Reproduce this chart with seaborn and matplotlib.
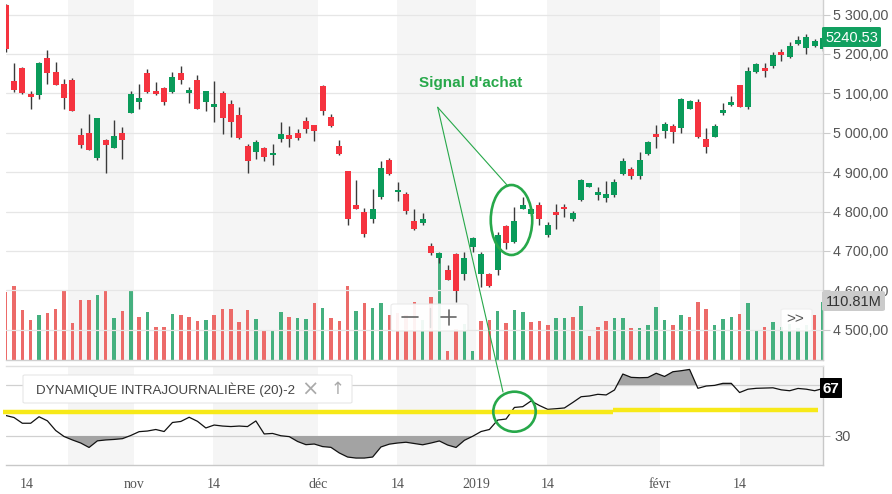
import matplotlib
matplotlib.use("Agg")
import matplotlib.pyplot as plt
import matplotlib.ticker as mticker
from matplotlib.patches import Ellipse, FancyBboxPatch, Rectangle
from matplotlib.lines import Line2D
import numpy as np
import pandas as pd
import seaborn as sns

# ---------------- data (CAC 40 daily, 10 Oct 2018 -> 28 Feb 2019) ----------------
opens = [5324, 5131, 5164, 5098, 5097, 5190, 5154, 5124, 5134, 4994,
         4999, 4936, 4982, 4962, 4999, 5051, 5079, 5151, 5106, 5114,
         5104, 5152, 5102, 5134, 5079, 5066, 5102, 5073, 5045, 4967,
         4950, 4961, 4943, 4985, 4994, 5000, 5030, 5019, 5119, 5040,
         4967, 4903, 4816, 4799, 4782, 4836, 4931, 4849, 4845, 4776,
         4770, 4713, 4683, 4652, 4691, 4642, 4709, 4642, 4642, 4652,
         4762, 4723, 4807, 4793, 4817, 4741, 4800, 4812, 4782, 4828,
         4863, 4841, 4834, 4841, 4895, 4907, 4890, 4945, 4997, 5005,
         5017, 5012, 5061, 5078, 4984, 4990, 5051, 5071, 5121, 5065,
         5153, 5164, 5170, 5206, 5193, 5225, 5214, 5220, 5212]
highs = [5328, 5178, 5166, 5107, 5180, 5210, 5179, 5136, 5138, 5011,
         5047, 5038, 4983, 5032, 5014, 5107, 5124, 5163, 5128, 5115,
         5153, 5169, 5117, 5146, 5107, 5132, 5107, 5082, 5066, 4971,
         4982, 4963, 4972, 5027, 5016, 5010, 5039, 5020, 5120, 5047,
         4982, 4904, 4880, 4810, 4857, 4927, 4937, 4875, 4849, 4807,
         4796, 4719, 4697, 4665, 4694, 4697, 4736, 4697, 4645, 4749,
         4766, 4811, 4838, 4808, 4823, 4774, 4818, 4818, 4802, 4882,
         4873, 4863, 4877, 4882, 4935, 4912, 4952, 4978, 5020, 5026,
         5022, 5087, 5083, 5085, 5011, 5022, 5076, 5093, 5122, 5166,
         5176, 5178, 5206, 5212, 5231, 5246, 5251, 5239, 5245]
lows = [5206, 5104, 5098, 5059, 5085, 5124, 5121, 5059, 5054, 4961,
        4955, 4931, 4897, 4961, 4933, 5049, 5061, 5102, 5096, 5070,
        5102, 5125, 5076, 5060, 5056, 5028, 4997, 4990, 4983, 4897,
        4933, 4928, 4917, 4977, 4963, 4982, 5000, 4978, 5046, 5014,
        4944, 4765, 4806, 4736, 4772, 4831, 4893, 4826, 4794, 4754,
        4765, 4689, 4670, 4625, 4569, 4625, 4696, 4609, 4609, 4639,
        4704, 4721, 4806, 4789, 4765, 4735, 4755, 4787, 4776, 4826,
        4862, 4828, 4823, 4838, 4892, 4882, 4882, 4943, 4961, 4986,
        4973, 5000, 5060, 4987, 4948, 4988, 5044, 5068, 5065, 5061,
        5152, 5141, 5164, 5183, 5191, 5222, 5200, 5217, 5208]
closes = [5213, 5109, 5100, 5090, 5178, 5151, 5122, 5087, 5055, 4970,
          4956, 5037, 4970, 4992, 4982, 5098, 5088, 5104, 5098, 5078,
          5142, 5134, 5109, 5061, 5105, 5073, 5038, 5028, 4986, 4929,
          4977, 4939, 4948, 4997, 4984, 4987, 5010, 5005, 5055, 5016,
          4946, 4782, 4807, 4743, 4806, 4911, 4895, 4855, 4802, 4755,
          4780, 4694, 4695, 4626, 4599, 4682, 4733, 4691, 4611, 4740,
          4721, 4776, 4817, 4806, 4782, 4766, 4790, 4806, 4796, 4879,
          4872, 4850, 4845, 4875, 4929, 4889, 4931, 4976, 4990, 5021,
          5003, 5085, 5081, 4988, 4965, 5017, 5058, 5079, 5066, 5157,
          5175, 5158, 5197, 5198, 5220, 5236, 5244, 5232, 5240.53]
volumes_m = [130, 141, 96, 77, 86, 90, 97, 131, 71, 115,
             115, 124, 132, 81, 94, 131, 82, 92, 64, 64,
             88, 86, 82, 75, 77, 86, 97, 97, 73, 96,
             78, 55, 58, 92, 82, 81, 78, 108, 100, 81,
             75, 142, 94, 108, 100, 108, 86, 90, 86, 110,
             76, 120, 197, 17, 59, 69, 17, 75, 76, 94,
             71, 96, 92, 73, 75, 67, 81, 80, 82, 103,
             46, 63, 75, 81, 81, 62, 62, 67, 101, 76,
             67, 86, 82, 111, 97, 67, 78, 83, 88, 109,
             57, 64, 73, 63, 69, 61, 67, 86, 110.81]
imi = [46.1, 44.5, 40.0, 40.0, 45.1, 41.9, 34.3, 29.6, 26.9, 24.5,
       21.0, 26.2, 26.9, 27.3, 27.9, 30.4, 33.4, 33.9, 35.1, 33.5,
       40.6, 41.4, 44.7, 41.5, 36.3, 38.6, 37.8, 37.4, 37.8, 37.4,
       41.8, 31.6, 32.0, 30.2, 29.5, 25.7, 23.2, 23.7, 21.7, 21.1,
       16.7, 13.5, 12.7, 12.7, 13.5, 21.4, 23.6, 24.5, 25.1, 24.1,
       23.1, 24.5, 26.1, 22.9, 21.0, 26.6, 29.8, 33.5, 35.1, 42.5,
       43.3, 52.4, 53.0, 57.5, 53.9, 50.9, 51.4, 52.0, 56.3, 60.8,
       61.4, 62.7, 62.2, 66.1, 78.6, 76.0, 75.7, 75.9, 79.2, 76.7,
       80.4, 81.2, 82.2, 67.4, 69.2, 69.7, 71.3, 71.3, 64.1, 66.7,
       67.4, 67.6, 67.8, 66.2, 65.5, 67.3, 66.7, 65.5, 67.2]
price_ticks = [4500, 4600, 4700, 4800, 4900, 5000, 5100, 5200, 5300]
date_tick_pos = [2.52, 15.43, 24.90, 37.49, 47.0, 56.4, 64.95, 78.46, 87.97]
date_tick_labels = ["14", "nov", "14", "déc", "14", "2019", "14", "févr", "14"]
shade_spans = [(7.47, 15.43), (24.90, 37.49), (46.9, 56.4), (64.95, 78.46), (88.05, 99.0)]
imi_levels = [30, 70]
signal_levels = [(-0.35, 72.8, 49.1), (72.8, 97.4, 50.4)]
indicator_name = "DYNAMIQUE INTRAJOURNALIÈRE (20)-2"
annotation_text = "Signal d'achat"

# ---------------- styling ----------------
sns.set_theme(style="white")
plt.rcParams["font.family"] = ["Liberation Sans", "DejaVu Sans"]

RED = "#f5333f"
GREEN = "#0a9b5a"
VRED = "#ec6b69"
VGREEN = "#45b07f"
BAND = "#f5f5f5"
GRID = "#e6e6e6"
TXT = "#555555"
SIG = "#27a84a"

W, H = 892, 494
fig = plt.figure(figsize=(W / 100, H / 100), dpi=100)
fig.patch.set_facecolor("white")


def fx(x):
    return x / W


def fy(y):
    return 1 - y / H


XL = (0.04, 98.0)
main_rect = [fx(6), fy(360), fx(823) - fx(6), fy(0) - fy(360)]
low_rect = [fx(6), fy(465), fx(823) - fx(6), fy(366) - fy(465)]

df = pd.DataFrame({"i": np.arange(len(closes)), "open": opens, "high": highs,
                   "low": lows, "close": closes, "vol": volumes_m, "imi": imi})
prev = df["close"].shift(1)
df["dir"] = np.where(df["close"] >= prev, "up", "down")
df.loc[0, "dir"] = "down"
df["cdl"] = np.where(df["close"] >= df["open"], "up", "down")

# ---------------- volume axes (bottom layer) ----------------
axv = fig.add_axes(main_rect)
axv.set_facecolor("white")
for a, b in shade_spans:
    axv.axvspan(a, b, color=BAND, lw=0, zorder=0)
sns.barplot(data=df, x="i", y="vol", hue="dir", palette={"up": VGREEN, "down": VRED},
            native_scale=True, width=0.42, dodge=False, errorbar=None, legend=False,
            saturation=1, ax=axv, zorder=2, linewidth=0)
axv.set_xlim(*XL)
axv.set_ylim(0, 360 * 1.911)
axv.set_xticks([])
axv.set_yticks([])
axv.set_xlabel("")
axv.set_ylabel("")
for s in axv.spines.values():
    s.set_visible(False)

# ---------------- price axes ----------------
ax = fig.add_axes(main_rect)
ax.set_facecolor("none")
for p in price_ticks:
    ax.axhline(p, color=GRID, lw=0.9, zorder=1)
ax.vlines(df["i"], df["low"], df["high"], color="#3a3a3a", lw=1.0, zorder=3)
body_bottom = np.minimum(df["open"], df["close"])
body_height = np.maximum(np.abs(df["close"] - df["open"]), 2.0)
ax.bar(df["i"], body_height, bottom=body_bottom, width=0.72,
       color=[GREEN if d == "up" else RED for d in df["cdl"]], lw=0, zorder=4)
ax.set_xlim(*XL)
ax.set_ylim(4423, 5337)
ax.set_xticks([])
ax.yaxis.tick_right()
ax.set_yticks(price_ticks)
ax.yaxis.set_major_formatter(mticker.FuncFormatter(
    lambda v, p: f"{v:,.2f}".replace(",", " ").replace(".", ",")))
ax.tick_params(axis="y", length=5, width=0.8, color="#cccccc", labelsize=10.3,
               labelcolor=TXT, pad=2)
for k, s in ax.spines.items():
    s.set_visible(k in ("right", "bottom"))
    s.set_color("#d0d0d0")
    s.set_linewidth(1)

# ---------------- indicator axes ----------------
axl = fig.add_axes(low_rect)
axl.set_facecolor("white")
for a, b in shade_spans:
    axl.axvspan(a, b, color=BAND, lw=0, zorder=0)
for lv in imi_levels:
    axl.axhline(lv, color="#d0d0d0", lw=0.9, zorder=1)
vals = df["imi"].to_numpy()
axl.fill_between(df["i"], vals, imi_levels[0], where=vals < imi_levels[0],
                 interpolate=True, color="#a3a3a3", lw=0, zorder=2)
axl.fill_between(df["i"], vals, imi_levels[1], where=vals > imi_levels[1],
                 interpolate=True, color="#a3a3a3", lw=0, zorder=2)
sns.lineplot(data=df, x="i", y="imi", color="#111111", lw=0.9, ax=axl, zorder=3)
for a, b, lv in signal_levels:
    axl.plot([a, b], [lv, lv], color="#f7e918", lw=3.2, solid_capstyle="butt",
             clip_on=False, zorder=4)
axl.set_xlim(*XL)
axl.set_ylim(7.25, 84.9)
axl.set_xlabel("")
axl.set_ylabel("")
axl.yaxis.tick_right()
axl.set_yticks([imi_levels[0]])
axl.set_yticklabels([str(imi_levels[0])])
axl.tick_params(axis="y", length=5, width=0.8, color="#cccccc", labelsize=10.5,
                labelcolor=TXT, pad=3)
axl.set_xticks(date_tick_pos)
axl.set_xticklabels(date_tick_labels, family=["Liberation Serif", "DejaVu Serif"],
                    fontsize=10, color=TXT)
axl.tick_params(axis="x", length=4, width=0.8, color="#aaaaaa", pad=5)
for k, s in axl.spines.items():
    s.set_visible(k != "left")
    s.set_color("#c8c8c8" if k != "top" else "#e0e0e0")
    s.set_linewidth(1)

# ---------------- overlay widgets (figure pixel coords) ----------------
T = fig.transFigure


def box(x0, y0, x1, y1, fc, ec="none", alpha=1.0, r=2, z=10):
    fig.add_artist(FancyBboxPatch((fx(x0), fy(y1)), fx(x1) - fx(x0), fy(y0) - fy(y1),
                                  boxstyle=f"round,pad=0,rounding_size={r / W}",
                                  transform=T, fc=fc, ec=ec, lw=0.8, alpha=alpha,
                                  zorder=z))


# last price label
box(822, 27, 881, 47, "#12a060", r=2)
fig.text(fx(851.5), fy(37.5), f"{closes[-1]:.2f}", color="white", fontsize=10.5,
         ha="center", va="center", zorder=11)
# last volume label
box(822, 291, 885, 311, "#cbcbcb", r=3)
fig.text(fx(853.5), fy(301.5), f"{volumes_m[-1]:.2f}M", color="#333333", fontsize=10.5,
         ha="center", va="center", zorder=11)
# last indicator value
box(820, 378, 842, 398, "black", r=1)
fig.text(fx(831), fy(388.5), f"{imi[-1]:.0f}", color="white", fontsize=11,
         fontweight="bold", ha="center", va="center", zorder=11)

# zoom controls
box(391, 304, 468, 331, "white", ec="#e8e8e8", alpha=0.92, r=3)
fig.add_artist(Line2D([fx(402), fx(418)], [fy(317), fy(317)], transform=T,
                      color="#666666", lw=1.2, zorder=11))
fig.add_artist(Line2D([fx(441), fx(456)], [fy(317), fy(317)], transform=T,
                      color="#666666", lw=1.2, zorder=11))
fig.add_artist(Line2D([fx(448.5), fx(448.5)], [fy(309.5), fy(324.5)], transform=T,
                      color="#666666", lw=1.2, zorder=11))
fig.add_artist(Line2D([fx(430), fx(430)], [fy(308), fy(327)], transform=T,
                      color="#dddddd", lw=1, zorder=11))
box(781, 309, 812, 331, "white", ec="#eeeeee", alpha=0.92, r=3)
fig.text(fx(795.5), fy(319), ">>", color="#555555", fontsize=11, ha="center",
         va="center", zorder=11)

# indicator legend
box(23, 375, 352, 403, "white", ec="#e6e6e6", r=2)
fig.text(fx(36), fy(389.5), indicator_name, color="#444444", fontsize=9.6,
         ha="left", va="center", zorder=11)
fig.text(fx(310), fy(389.5), "×", color="#aaaaaa", fontsize=15, ha="center",
         va="center", family=["DejaVu Sans"], zorder=11)
fig.text(fx(338), fy(389.5), "↑", color="#aaaaaa", fontsize=12, ha="center",
         va="center", family=["DejaVu Sans"], zorder=11)

# buy-signal annotation
fig.text(fx(471), fy(83), annotation_text, color=SIG, fontsize=11, fontweight="bold",
         ha="center", va="center", zorder=12)
fig.add_artist(Line2D([fx(437.7), fx(507)], [fy(107.3), fy(185)], transform=T,
                      color=SIG, lw=0.8, zorder=12))
fig.add_artist(Line2D([fx(437.7), fx(503)], [fy(107.3), fy(392)], transform=T,
                      color=SIG, lw=0.8, zorder=12))
fig.add_artist(Ellipse((fx(511.5), fy(220)), 41.5 / W, 70 / H, transform=T,
                       fill=False, ec=SIG, lw=1.9, zorder=12))
fig.add_artist(Ellipse((fx(514.5), fy(411.7)), 42.4 / W, 40 / H, transform=T,
                       fill=False, ec=SIG, lw=1.9, zorder=12))

fig.savefig("out.png", dpi=100)
